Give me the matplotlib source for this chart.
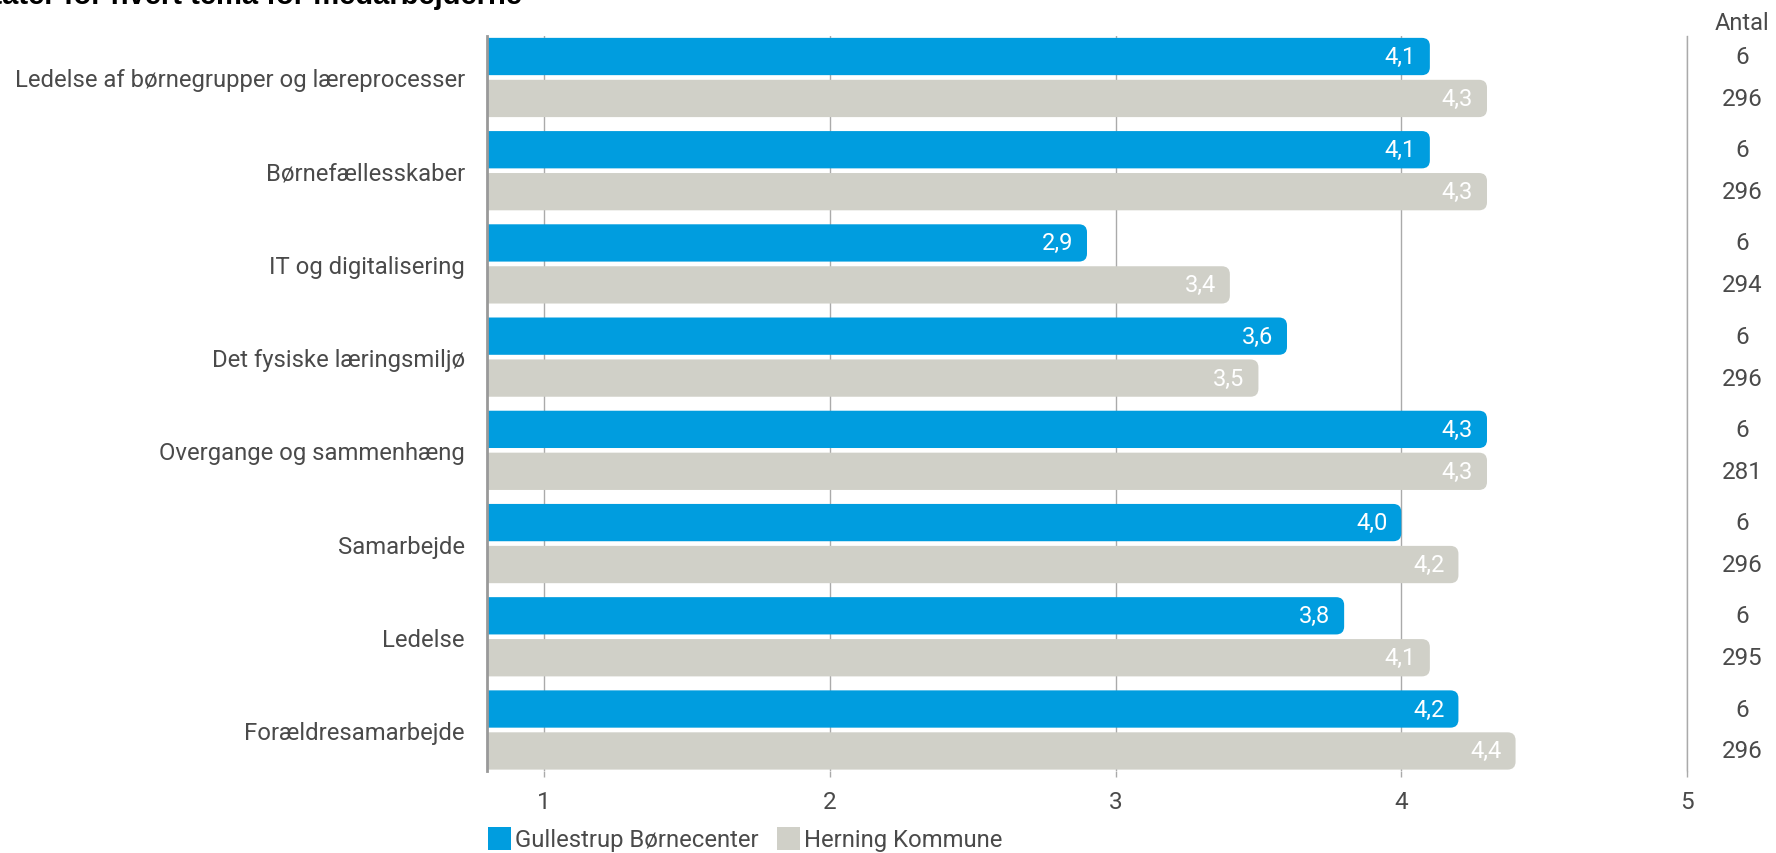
import matplotlib.pyplot as plt
from matplotlib.patches import FancyBboxPatch, Patch
from matplotlib.transforms import blended_transform_factory

plt.rcParams['font.family'] = ['Roboto', 'DejaVu Sans']

# Data
themes = ['Ledelse af børnegrupper og læreprocesser', 'Børnefællesskaber',
          'IT og digitalisering', 'Det fysiske læringsmiljø',
          'Overgange og sammenhæng', 'Samarbejde', 'Ledelse', 'Forældresamarbejde']
gullestrup = [4.1, 4.1, 2.9, 3.6, 4.3, 4.0, 3.8, 4.2]
herning = [4.3, 4.3, 3.4, 3.5, 4.3, 4.2, 4.1, 4.4]
antal_gullestrup = [6, 6, 6, 6, 6, 6, 6, 6]
antal_herning = [296, 296, 294, 296, 281, 296, 295, 296]
series_names = ['Gullestrup Børnecenter', 'Herning Kommune']
x_ticks = [1, 2, 3, 4, 5]

blue = '#009DDF'
grey = '#D0D0C8'
text_col = '#4A4A4A'

fig = plt.figure(figsize=(17.76, 8.54), dpi=100)
ax = fig.add_axes([487/1776, 1 - 772/854, 1200/1776, 735/854])

x0 = 0.8
pos = list(range(len(themes)))
off = 0.225
h = 0.4

bars_b = ax.barh([p - off for p in pos], [v - x0 + 0.1 for v in gullestrup],
                 left=x0 - 0.1, height=h, color=blue)
bars_g = ax.barh([p + off for p in pos], [v - x0 + 0.1 for v in herning],
                 left=x0 - 0.1, height=h, color=grey)

# replace bars with rounded versions (only right corners show)
rx = 8 / 285.5
ry = 8 / 93.3
for bars, col in [(bars_b, blue), (bars_g, grey)]:
    for b in bars:
        b.set_visible(False)
        p = FancyBboxPatch((b.get_x(), b.get_y()), b.get_width(), b.get_height(),
                           boxstyle=f'round,pad=0,rounding_size={rx}',
                           mutation_aspect=ry / rx, fc=col, ec='none',
                           zorder=2, clip_on=True)
        ax.add_patch(p)

# value labels
for vals, offs in [(gullestrup, -off), (herning, off)]:
    for p, v in zip(pos, vals):
        ax.annotate(f'{v:.1f}'.replace('.', ','), (v, p + offs),
                    xytext=(-10, 0), textcoords='offset points',
                    ha='right', va='center', color='white', fontsize=17, zorder=3)

ax.set_xlim(x0, 5)
ax.set_ylim(7.44, -0.445)
ax.set_xticks(x_ticks)
ax.set_xticklabels([str(t) for t in x_ticks])
ax.set_yticks(pos)
ax.set_yticklabels(themes)
ax.tick_params(axis='y', length=0, pad=16, labelsize=17.2, labelcolor=text_col)
ax.tick_params(axis='x', length=4, width=1, color='#AAAAAA', pad=10,
               labelsize=17.5, labelcolor=text_col)
ax.grid(axis='x', color='#AAAAAA', linewidth=1, zorder=0)
ax.set_axisbelow(True)

for s in ['top', 'bottom']:
    ax.spines[s].set_visible(False)
ax.spines['left'].set_color('#999999')
ax.spines['left'].set_linewidth(2)
ax.spines['right'].set_color('#AAAAAA')
ax.spines['right'].set_linewidth(1)

# count column on the right
tr = blended_transform_factory(ax.transAxes, ax.transData)
xc = (1742 - 487) / 1200
ax.text(xc, 1 + 14 / 735, 'Antal', transform=ax.transAxes, ha='center',
        va='center', fontsize=17, color=text_col)
for p, a, b in zip(pos, antal_gullestrup, antal_herning):
    ax.text(xc, p - off, str(a), transform=tr, ha='center', va='center',
            fontsize=17.4, color=text_col, clip_on=False)
    ax.text(xc, p + off, str(b), transform=tr, ha='center', va='center',
            fontsize=17.4, color=text_col, clip_on=False)

# title, mostly above the visible canvas
fig.text(522 / 1776, 1 - 4 / 854, 'Resultater for hvert tema for medarbejderne',
         ha='right', va='baseline', fontsize=21, fontweight='bold',
         family=['Liberation Sans', 'DejaVu Sans'], color='black')

# legend
handles = [Patch(facecolor=blue, edgecolor='none'), Patch(facecolor=grey, edgecolor='none')]
fig.legend(handles, series_names, loc='center left',
           bbox_to_anchor=(478 / 1776, 1 - 840 / 854), ncol=2, frameon=False,
           fontsize=17.2, handlelength=1.0, handleheight=1.15, handletextpad=0.15,
           columnspacing=0.75, labelcolor=text_col, borderaxespad=0)

fig.savefig('out.png', dpi=100)
